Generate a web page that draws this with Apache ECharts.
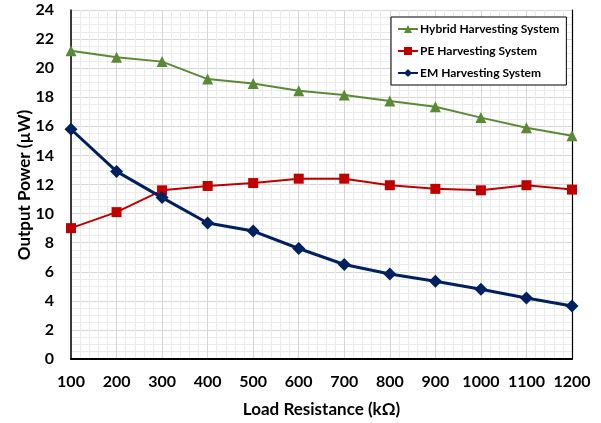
<!DOCTYPE html>
<html>
<head>
<meta charset="utf-8">
<script src="https://cdn.jsdelivr.net/npm/echarts@6/dist/echarts.min.js"></script>
<style>
  html, body { margin: 0; padding: 0; background: #fff; }
  #chart { width: 601px; height: 423px; }
</style>
</head>
<body>
<div id="chart"></div>
<script>
// Load resistance (kΩ) on the x axis
const loads = [100, 200, 300, 400, 500, 600, 700, 800, 900, 1000, 1100, 1200];

// Output power (µW) for each harvesting system
const hybridPower = [21.2, 20.75, 20.45, 19.25, 18.95, 18.45, 18.15, 17.75, 17.35, 16.6, 15.9, 15.35];
const pePower     = [9.0, 10.1, 11.6, 11.9, 12.1, 12.4, 12.4, 11.95, 11.7, 11.6, 11.95, 11.65];
const emPower     = [15.8, 12.9, 11.1, 9.35, 8.8, 7.6, 6.5, 5.85, 5.35, 4.8, 4.2, 3.65];

const seriesNames = ['Hybrid Harvesting System', 'PE Harvesting System', 'EM Harvesting System'];
const yTitle = 'Output Power (µW)';

const font = 'Lato, "Open Sans", sans-serif';

function pairs(values) {
  return loads.map((x, i) => [x, values[i]]);
}

const chart = echarts.init(document.getElementById('chart'), null, { renderer: 'canvas' });

chart.setOption({
  animation: false,
  backgroundColor: '#ffffff',
  grid: { left: 71, right: 29, top: 10, bottom: 62 },
  graphic: [
    {
      // vertical title of the power axis
      type: 'text',
      x: 25,
      y: 185,
      rotation: Math.PI / 2,
      style: {
        text: yTitle,
        fill: '#000',
        font: 'bold 17px ' + font,
        align: 'center',
        verticalAlign: 'middle'
      }
    }
  ],
  legend: {
    orient: 'vertical',
    left: 391,
    top: 17,
    padding: [6, 7, 6, 6],
    itemGap: 10,
    itemWidth: 20,
    itemHeight: 10,
    backgroundColor: '#ffffff',
    borderColor: '#000000',
    borderWidth: 1,
    borderRadius: 0,
    textStyle: { fontFamily: font, fontWeight: 'bold', fontSize: 12, color: '#000', padding: [0, 0, 0, -3] },
    data: seriesNames
  },
  xAxis: {
    type: 'value',
    min: 100,
    max: 1200,
    interval: 100,
    name: 'Load Resistance (kΩ)',
    nameLocation: 'middle',
    nameGap: 42,
    nameTextStyle: { fontFamily: font, fontWeight: 'bold', fontSize: 17, color: '#000' },
    axisLine: { show: true, onZero: false, lineStyle: { color: '#000', width: 2 } },
    axisTick: { show: false },
    axisLabel: {
      fontFamily: font, fontWeight: 'bold', fontSize: 16, color: '#000', margin: 15,
      formatter: v => String(v)
    },
    splitLine: { show: true, lineStyle: { color: '#d6d6d6', width: 1 } },
    minorTick: { show: false, splitNumber: 5 },
    minorSplitLine: { show: true, lineStyle: { color: '#ebebeb', width: 1 } }
  },
  yAxis: [
    {
      type: 'value',
      min: 0,
      max: 24,
      interval: 2,
      axisLine: { show: true, lineStyle: { color: '#000', width: 1.5 } },
      axisTick: { show: false },
      axisLabel: { fontFamily: font, fontWeight: 'bold', fontSize: 16, color: '#000', margin: 17 },
      splitLine: { show: true, lineStyle: { color: '#d6d6d6', width: 1 } },
      minorTick: { show: false, splitNumber: 4 },
      minorSplitLine: { show: true, lineStyle: { color: '#ebebeb', width: 1 } }
    },
    {
      // right-hand frame of the plot area
      type: 'value',
      position: 'right',
      min: 0,
      max: 24,
      interval: 2,
      axisLine: { show: true, lineStyle: { color: '#000', width: 1.2 } },
      axisTick: { show: false },
      axisLabel: { show: false },
      splitLine: { show: false }
    }
  ],
  series: [
    {
      name: seriesNames[0],
      type: 'line',
      data: pairs(hybridPower),
      symbol: 'triangle',
      symbolSize: 11,
      color: '#5a8a36',
      lineStyle: { color: '#5a8a36', width: 2 },
      itemStyle: { color: '#5a8a36' },
      z: 3
    },
    {
      name: seriesNames[1],
      type: 'line',
      data: pairs(pePower),
      symbol: 'rect',
      symbolSize: 10,
      color: '#c00000',
      lineStyle: { color: '#c00000', width: 2 },
      itemStyle: { color: '#c00000' },
      z: 4
    },
    {
      name: seriesNames[2],
      type: 'line',
      data: pairs(emPower),
      symbol: 'diamond',
      symbolSize: 13,
      color: '#002060',
      lineStyle: { color: '#002060', width: 3 },
      itemStyle: { color: '#002060' },
      z: 5
    }
  ]
});
</script>
</body>
</html>
